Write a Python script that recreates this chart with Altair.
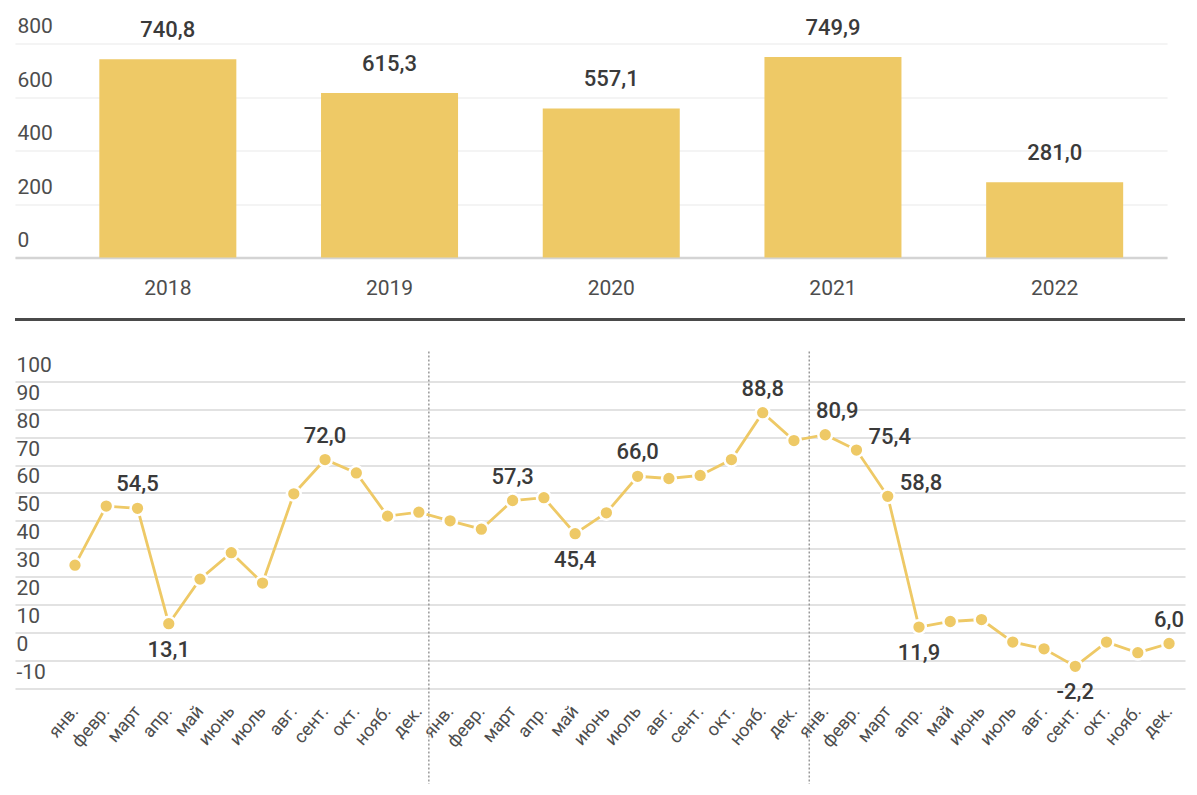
import json
import altair as alt
import pandas as pd

# ---- data ----
years = ["2018", "2019", "2020", "2021", "2022"]
annual = [740.8, 615.3, 557.1, 749.9, 281.0]

months = ["янв.", "февр.", "март", "апр.", "май", "июнь", "июль",
          "авг.", "сент.", "окт.", "нояб.", "дек."]
monthly_2018 = [34.1, 55.3, 54.5, 13.1, 29.1, 38.6, 27.7, 59.7, 72.0, 67.2, 51.7, 53.1]
monthly_2019 = [50.0, 47.0, 57.3, 58.3, 45.4, 52.9, 66.0, 65.2, 66.3, 72.0, 88.8, 78.8]
monthly_2020 = [80.9, 75.4, 58.8, 11.9, 13.9, 14.6, 6.5, 4.1, -2.2, 6.5, 2.7, 6.0]
label_pos_2018 = ["", "", "above", "below", "", "", "", "", "above", "", "", ""]
label_pos_2019 = ["", "", "above", "", "below", "", "above", "", "", "", "above", ""]
label_pos_2020 = ["aboveR", "right", "right", "below", "", "", "", "", "below", "", "", "above"]
year_dividers = [11.32, 23.49]

y_ticks_top = [0, 200, 400, 600, 800]
y_ticks_bottom = [-10, 0, 10, 20, 30, 40, 50, 60, 70, 80, 90, 100]

# ---- styles ----
GOLD = "#EEC966"
FONT = "Roboto"
LABEL_GREY = "#4d4d4d"
VALUE_GREY = "#3a3a3a"

def fmt(v):
    return f"{v:.1f}".replace(".", ",")

top_df = pd.DataFrame({"year": years, "value": annual,
                       "label": [fmt(v) for v in annual]})

vals = monthly_2018 + monthly_2019 + monthly_2020
pos = label_pos_2018 + label_pos_2019 + label_pos_2020
mon_df = pd.DataFrame({
    "i": list(range(len(vals))),
    "v": vals,
    "pos": pos,
    "label": [fmt(v) for v in vals],
})
div_df = pd.DataFrame({"d": year_dividers})

W_TOP = 1152
H_TOP = 214
W_BOT = 1170
H_BOT = 306.6

# ---- top chart ----
xt = alt.X("year:N", sort=years,
           scale=alt.Scale(paddingInner=0.382, paddingOuter=0.289, align=0.658),
           axis=alt.Axis(title=None, labelAngle=0, ticks=False, tickSize=0,
                         domain=True, domainColor="#d4d4d4", domainWidth=2.5,
                         labelFont=FONT, labelFontSize=21, labelColor=LABEL_GREY,
                         labelBaseline="alphabetic", labelPadding=37, grid=False))
yt = alt.Y("value:Q", scale=alt.Scale(domain=[0, 800], nice=False, zero=True),
           axis=alt.Axis(title=None, values=y_ticks_top, tickCount=len(y_ticks_top),
                         ticks=False, tickSize=0,
                         domain=False, grid=True, gridColor="#f0f0f0", gridWidth=1.5,
                         labelAlign="left", labelBaseline="alphabetic",
                         labelOffset=-11, labelPadding=-2, labelOverlap=False,
                         labelFont=FONT, labelFontSize=21, labelColor=LABEL_GREY,
                         labelExpr="'' + datum.value"))

bars = alt.Chart(top_df).mark_bar(color=GOLD).encode(x=xt, y=yt)
bar_text = alt.Chart(top_df).mark_text(
    baseline="alphabetic", dy=-22, font=FONT, fontSize=22, fontWeight=500,
    color=VALUE_GREY
).encode(x=alt.X("year:N", sort=years), y="value:Q", text="label:N")

top = alt.layer(bars, bar_text).properties(width=W_TOP, height=H_TOP)

# ---- bottom chart ----
month_expr = json.dumps(months, ensure_ascii=False) + "[datum.value % 12]"
xb_scale = alt.Scale(domain=[-1.919, 35.51], nice=False, zero=False)
xb = alt.X("i:Q", scale=xb_scale,
           axis=alt.Axis(title=None, values=list(range(len(vals))), tickCount=len(vals) + 4,
                         labelExpr=month_expr,
                         labelAngle=310, labelAlign="right", labelBaseline="middle",
                         labelPadding=20, labelOverlap=False, labelFlush=False,
                         ticks=False, tickSize=0, domain=False, grid=False,
                         labelFont=FONT, labelFontSize=18, labelColor=LABEL_GREY))
yb = alt.Y("v:Q", scale=alt.Scale(domain=[-10, 100], nice=False, zero=False),
           axis=alt.Axis(title=None, values=y_ticks_bottom, tickCount=len(y_ticks_bottom) + 2,
                         ticks=False, tickSize=0,
                         domain=False, grid=True, gridColor="#e2e2e2", gridWidth=2,
                         labelAlign="left", labelBaseline="alphabetic",
                         labelOffset=-10, labelPadding=-1, labelOverlap=False,
                         labelFont=FONT, labelFontSize=21, labelColor=LABEL_GREY,
                         labelExpr="'' + datum.value"))

base = alt.Chart(mon_df)

separator = base.mark_rule(color="#4a4a4a", strokeWidth=3).encode(
    x=alt.value(0), x2=alt.value(W_BOT), y=alt.value(-62))

dividers = alt.Chart(div_df).mark_rule(
    color="#9a9a9a", strokeWidth=1.5, strokeDash=[2, 2]
).encode(x=alt.X("d:Q", scale=xb_scale), y=alt.value(-30), y2=alt.value(H_BOT + 96))

line = base.mark_line(color=GOLD, strokeWidth=2.8).encode(x=xb, y=yb)
points = base.mark_circle(size=190, fill=GOLD, opacity=1, stroke="white",
                          strokeWidth=2.5).encode(x="i:Q", y="v:Q")

def labels(where, **kw):
    return base.transform_filter(alt.datum.pos == where).mark_text(
        font=FONT, fontSize=22, fontWeight=500, color=VALUE_GREY, **kw
    ).encode(x="i:Q", y="v:Q", text="label:N")

lab_above = labels("above", baseline="alphabetic", dy=-17)
lab_above_r = labels("aboveR", baseline="alphabetic", dx=12, dy=-17)
lab_below = labels("below", baseline="alphabetic", dy=33)
lab_right = labels("right", baseline="alphabetic", align="left", dx=12, dy=-6)

bottom = alt.layer(separator, dividers, line, points,
                   lab_above, lab_above_r, lab_below, lab_right
                   ).properties(width=W_BOT, height=H_BOT)

chart = alt.vconcat(top, bottom, spacing=19).properties(
    padding={"left": 5, "top": 7.5, "right": 0, "bottom": 0}
).configure(font=FONT).configure_view(strokeWidth=0, stroke="transparent")

chart.save("out.html", embed_options={"renderer": "svg", "actions": False})
